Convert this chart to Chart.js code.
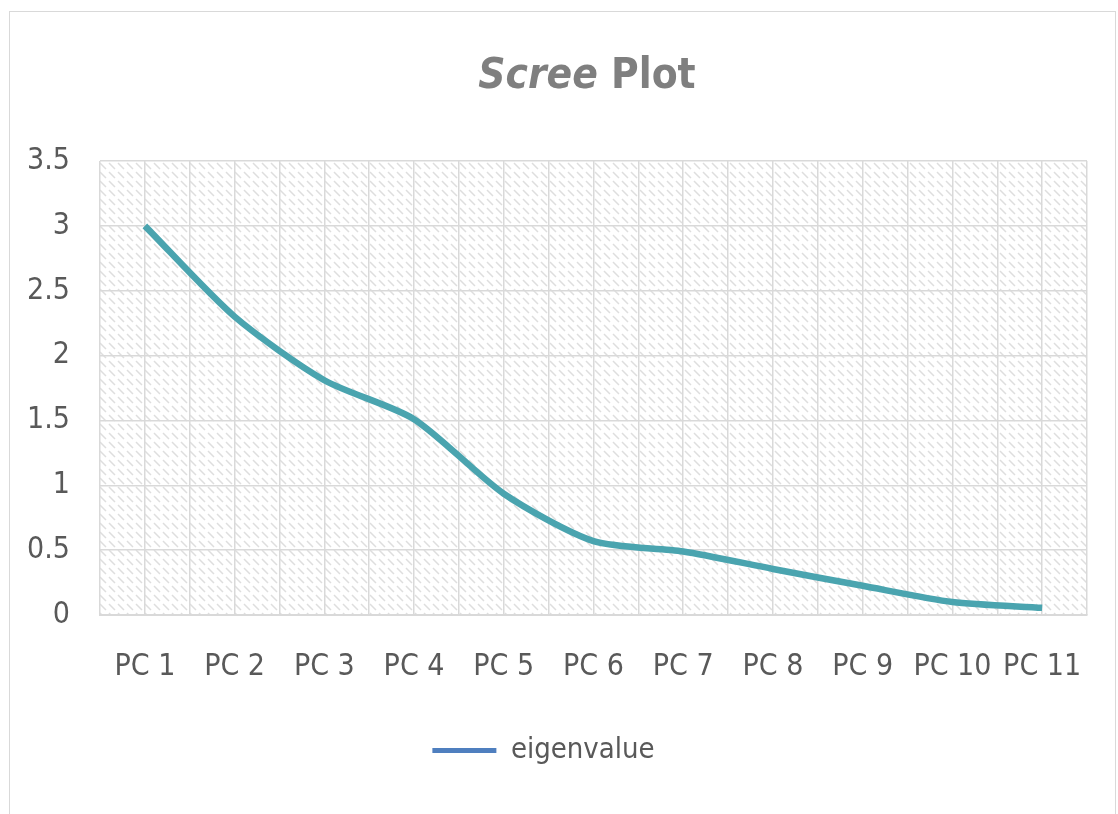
<!DOCTYPE html>
<html>
<head>
<meta charset="utf-8">
<script src="https://cdn.jsdelivr.net/npm/chart.js@4/dist/chart.umd.min.js"></script>
<style>
    html, body { margin: 0; padding: 0; background: #fff; }
    #wrap { position: relative; width: 1118px; height: 814px; }
    #frame { position: absolute; left: 9px; top: 11px; width: 1105px; height: 820px; border: 1px solid #d9d9d9; }
    canvas { position: absolute; left: 0; top: 0; }
</style>
</head>
<body>
<div id="wrap">
    <div id="frame"></div>
    <canvas id="screeChart" width="1118" height="814"></canvas>
</div>
<script>
// chart data
const components = ['PC 1', 'PC 2', 'PC 3', 'PC 4', 'PC 5', 'PC 6', 'PC 7', 'PC 8', 'PC 9', 'PC 10', 'PC 11'];
const eigenvalues = [3.0, 2.30, 1.81, 1.51, 0.935, 0.57, 0.49, 0.355, 0.225, 0.10, 0.055];
const seriesName = 'eigenvalue';
const titleItalic = 'Scree';
const titleRest = 'Plot';

const FONT = '"Liberation Sans Narrow", "DejaVu Sans Condensed", "Liberation Sans", sans-serif';
const GRID = '#d9d9d9';
const TEXT = '#595959';

// light dashed diagonal hatch for the plot area
function makeHatch() {
    const c = document.createElement('canvas');
    c.width = 9;
    c.height = 9;
    const g = c.getContext('2d');
    g.fillStyle = '#ffffff';
    g.fillRect(0, 0, 9, 9);
    g.strokeStyle = '#dedede';
    g.lineWidth = 1.5;
    g.beginPath();
    g.moveTo(1, 1); g.lineTo(7, 7);
    g.stroke();
    return c;
}

const hatchPlugin = {
    id: 'hatch',
    beforeDraw(chart) {
        const { ctx, chartArea: a } = chart;
        ctx.save();
        ctx.fillStyle = ctx.createPattern(makeHatch(), 'repeat');
        ctx.fillRect(a.left, a.top, a.right - a.left, a.bottom - a.top);
        ctx.restore();
    }
};

// title with italic first word
const titlePlugin = {
    id: 'splitTitle',
    afterDraw(chart) {
        const ctx = chart.ctx;
        ctx.save();
        ctx.fillStyle = '#7f7f7f';
        ctx.textBaseline = 'middle';
        const f1 = 'italic bold 42px ' + FONT;
        const f2 = 'bold 42px ' + FONT;
        ctx.font = f1;
        const w1 = ctx.measureText(titleItalic + ' ').width;
        ctx.font = f2;
        const w2 = ctx.measureText(titleRest).width;
        const x0 = 587 - (w1 + w2) / 2;
        ctx.font = f1;
        ctx.fillText(titleItalic + ' ', x0, 77);
        ctx.font = f2;
        ctx.fillText(titleRest, x0 + w1, 77);
        ctx.restore();
    }
};

new Chart(document.getElementById('screeChart'), {
    type: 'line',
    data: {
        labels: components,
        datasets: [{
            label: seriesName,
            data: eigenvalues,
            borderColor: '#4aa4af',
            backgroundColor: '#4aa4af',
            borderWidth: 6.5,
            tension: 0.25,
            pointRadius: 0,
            borderCapStyle: 'butt',
            borderJoinStyle: 'round'
        }]
    },
    options: {
        responsive: false,
        animation: false,
        layout: { padding: { top: 161, right: 31, bottom: 39, left: 0 } },
        plugins: {
            title: { display: false },
            tooltip: { enabled: false },
            legend: {
                position: 'bottom',
                labels: {
                    color: TEXT,
                    font: { family: FONT, size: 29 },
                    boxWidth: 64,
                    boxHeight: 5,
                    padding: 10,
                    generateLabels: chart => [{
                        text: seriesName,
                        fillStyle: '#4f7fbf',
                        strokeStyle: '#4f7fbf',
                        lineWidth: 0,
                        fontColor: TEXT,
                        datasetIndex: 0
                    }]
                }
            }
        },
        scales: {
            x: {
                offset: true,
                grid: { color: GRID, lineWidth: 1.5, offset: false, drawTicks: false },
                border: { color: GRID, width: 2 },
                ticks: { color: TEXT, font: { family: FONT, size: 30 }, padding: 34, maxRotation: 0, autoSkip: false },
                afterFit: s => { s.height = 111; }
            },
            x2: {
                type: 'category',
                labels: components,
                position: 'bottom',
                offset: true,
                grid: { color: GRID, lineWidth: 1.5, offset: true, drawTicks: false },
                border: { display: false },
                ticks: { display: false },
                afterFit: s => { s.height = 0; }
            },
            y: {
                min: 0,
                max: 3.5,
                grid: { color: GRID, lineWidth: 1.5, drawTicks: false },
                border: { display: false },
                ticks: {
                    stepSize: 0.5,
                    color: TEXT,
                    font: { family: FONT, size: 30 },
                    padding: 30,
                    callback: v => String(v)
                },
                afterFit: s => { s.width = 100; }
            }
        }
    },
    plugins: [hatchPlugin, titlePlugin]
});
</script>
</body>
</html>
